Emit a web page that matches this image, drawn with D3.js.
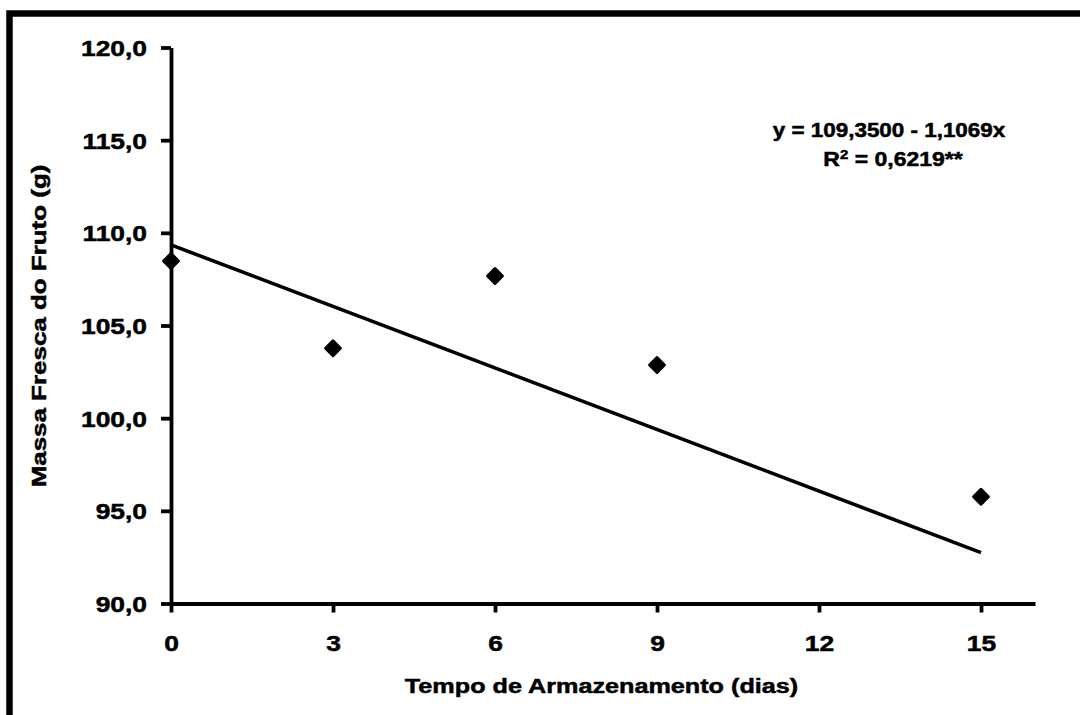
<!DOCTYPE html>
<html lang="en">
<head>
    <meta charset="utf-8">
    <title>D3: Massa Fresca do Fruto</title>
    <script type="text/javascript" src="https://d3js.org/d3.v7.min.js"></script>
    <style>
        body { margin: 0; background: #fff; }
        text { font-family: "Liberation Sans", Arial, sans-serif; font-weight: bold; fill: #000;
               stroke: #000; stroke-width: 0.5px; }
    </style>
</head>
<body>
    <div id="chart"></div>

    <script type="text/javascript">

        // Storage time (days) and mean fresh mass (g)
        var dias = [0, 3, 6, 9, 15];
        var massa = [108.48, 103.77, 107.67, 102.87, 95.76];

        // Fitted regression
        var intercepto = 109.35;
        var inclinacao = -1.1069;
        var equacao = "y = 109,3500 - 1,1069x";
        var r2Texto = " = 0,6219**";

        var xTicks = [0, 3, 6, 9, 12, 15];
        var yTicks = [90, 95, 100, 105, 110, 115, 120];

        var svgWidth = 1080;
        var svgHeight = 715;

        var svg = d3.select("#chart").append("svg")
            .attr("width", svgWidth)
            .attr("height", svgHeight);

        // Outer frame (right / bottom edges fall outside the picture)
        svg.append("rect")
            .attr("x", 9.5)
            .attr("y", 13.5)
            .attr("width", 1200)
            .attr("height", 900)
            .attr("fill", "none")
            .attr("stroke", "#000")
            .attr("stroke-width", 6.5);

        var x = d3.scaleLinear().domain([0, 16]).range([171, 1035]);
        var y = d3.scaleLinear().domain([90, 120]).range([603.5, 47.5]);

        var k = 1.2; // horizontal widening of the glyphs

        // Y axis
        var yAxis = svg.append("g")
            .attr("transform", "translate(" + x(0) + ",0)")
            .call(d3.axisLeft(y).tickValues(yTicks).tickSize(10).tickSizeOuter(0)
                .tickFormat(function(d) { return d3.format(".1f")(d).replace(".", ","); }));
        yAxis.select(".domain").attr("stroke-width", 3.8);
        yAxis.selectAll(".tick line").attr("stroke-width", 3.8);
        yAxis.selectAll(".tick text")
            .attr("x", -24 / k)
            .attr("dy", "0.36em")
            .attr("transform", "scale(" + k + ",1)")
            .style("font-size", "22px");

        // X axis
        var xAxis = svg.append("g")
            .attr("transform", "translate(0," + y(90) + ")")
            .call(d3.axisBottom(x).tickValues(xTicks).tickSize(9).tickSizeOuter(0));
        xAxis.select(".domain").attr("stroke-width", 3.8);
        xAxis.selectAll(".tick line").attr("stroke-width", 3.8);
        xAxis.selectAll(".tick text")
            .attr("y", 47.5)
            .attr("dy", 0)
            .attr("transform", "scale(" + k + ",1)")
            .style("font-size", "22px");

        // Regression line
        var line = d3.line()
            .x(function(d) { return x(d); })
            .y(function(d) { return y(intercepto + inclinacao * d); });

        svg.append("path")
            .datum([d3.min(dias), d3.max(dias)])
            .attr("d", line)
            .attr("fill", "none")
            .attr("stroke", "#000")
            .attr("stroke-width", 3.6);

        // Diamond markers
        var diamond = d3.symbol().type(d3.symbolSquare).size(110);
        svg.selectAll(".ponto")
            .data(dias)
            .enter()
            .append("path")
            .attr("class", "ponto")
            .attr("d", diamond)
            .attr("transform", function(d, i) {
                return "translate(" + x(d) + "," + y(massa[i]) + ") rotate(45)";
            })
            .attr("fill", "#000")
            .attr("stroke", "#000")
            .attr("stroke-width", 3)
            .attr("stroke-linejoin", "round");

        // Axis titles
        svg.append("text")
            .attr("transform", "translate(601.5,693) scale(" + k + ",1)")
            .attr("text-anchor", "middle")
            .style("font-size", "21px")
            .text("Tempo de Armazenamento (dias)");

        svg.append("text")
            .attr("transform", "translate(46,326) rotate(-90) scale(1.33,1)")
            .attr("text-anchor", "middle")
            .style("font-size", "19.5px")
            .text("Massa Fresca do Fruto (g)");

        // Equation
        svg.append("text")
            .attr("transform", "translate(889,136.7) scale(1.15,1)")
            .attr("text-anchor", "middle")
            .style("font-size", "19.5px")
            .text(equacao);

        var r2 = svg.append("text")
            .attr("transform", "translate(893,166) scale(1.15,1)")
            .attr("text-anchor", "middle")
            .style("font-size", "20px");
        r2.append("tspan").text("R");
        r2.append("tspan").attr("dy", -7).style("font-size", "13px").text("2");
        r2.append("tspan").attr("dy", 7).text(r2Texto);

    </script>
</body>
</html>
